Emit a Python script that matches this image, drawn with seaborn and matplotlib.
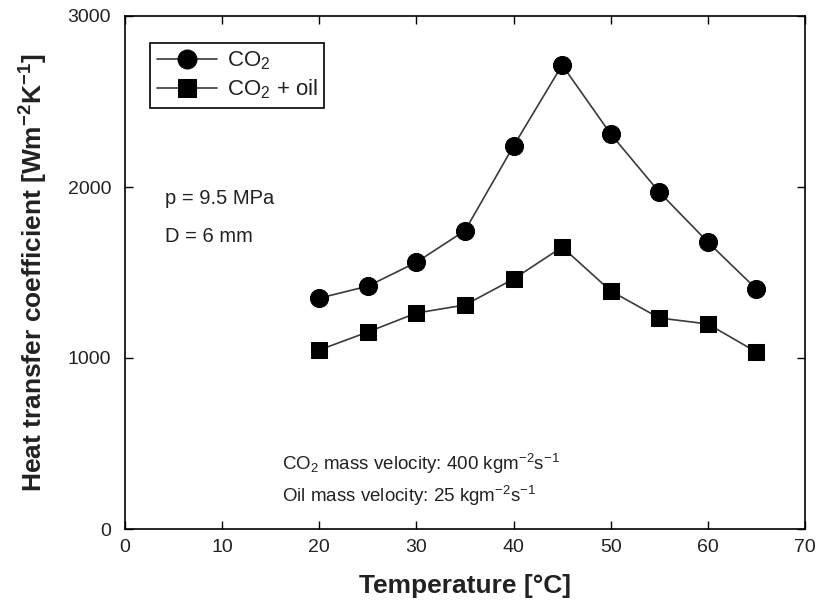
import matplotlib
matplotlib.use("Agg")
import matplotlib.pyplot as plt
import seaborn as sns
import pandas as pd

temperature = [20, 25, 30, 35, 40, 45, 50, 55, 60, 65]
htc_co2 = [1350, 1420, 1560, 1745, 2240, 2713, 2310, 1970, 1678, 1403]
htc_co2_oil = [1047, 1152, 1263, 1310, 1462, 1649, 1392, 1234, 1199, 1035]
series_labels = ["CO$_2$", "CO$_2$ + oil"]

sns.set_theme(style="ticks")
plt.rcParams["font.family"] = ["Liberation Sans", "DejaVu Sans"]
plt.rcParams["mathtext.fontset"] = "custom"
plt.rcParams["mathtext.rm"] = "Liberation Sans"
plt.rcParams["mathtext.it"] = "Liberation Sans:italic"
plt.rcParams["mathtext.bf"] = "Liberation Sans:bold"
plt.rcParams["mathtext.default"] = "regular"

df_co2 = pd.DataFrame({"T": temperature, "h": htc_co2})
df_oil = pd.DataFrame({"T": temperature, "h": htc_co2_oil})

fig = plt.figure(figsize=(8.21, 6.08), dpi=100)
ax = fig.add_axes([125/821, 1-529/608, (805-125)/821, (529-16)/608])

line_col = "#3a3a3a"
sns.lineplot(data=df_co2, x="T", y="h", ax=ax, color=line_col, lw=1.2,
             marker="o", markersize=13, markerfacecolor="black",
             markeredgecolor="black", label=series_labels[0])
sns.lineplot(data=df_oil, x="T", y="h", ax=ax, color=line_col, lw=1.2,
             marker="s", markersize=12, markerfacecolor="black",
             markeredgecolor="black", label=series_labels[1])

ax.set_xlim(0, 70)
ax.set_ylim(0, 3000)
ax.set_xticks(range(0, 71, 10))
ax.set_yticks([0, 1000, 2000, 3000])
ax.tick_params(direction="in", top=True, right=True, length=6, width=1,
               labelsize=14, colors="black", labelcolor="#222222")
ax.tick_params(axis="x", pad=7)
ax.tick_params(axis="y", pad=10)
for s in ax.spines.values():
    s.set_color("black")
    s.set_linewidth(1.2)

ax.set_xlabel("Temperature [°C]", fontsize=19, fontweight="bold", labelpad=13,
              color="#222222")
ax.set_ylabel(r"Heat transfer coefficient [Wm$^{\bf{-2}}$K$^{\bf{-1}}$]",
              fontsize=19, fontweight="bold", labelpad=13, color="#222222")

leg = ax.legend(loc="upper left", bbox_to_anchor=(25/680, 1-27/513),
                borderaxespad=0, fontsize=16, frameon=True, fancybox=False,
                borderpad=0.3, handlelength=2.7, labelspacing=0.25,
                handletextpad=0.45, framealpha=1, markerscale=1.05)
leg.get_frame().set_edgecolor("black")
leg.get_frame().set_linewidth(1.2)
for t in leg.get_texts():
    t.set_color("#222222")

ax.text(4.1, 1930, "p = 9.5 MPa", fontsize=14.5, va="center", ha="left",
        color="#222222")
ax.text(4.1, 1710, "D = 6 mm", fontsize=14.5, va="center", ha="left",
        color="#222222")
ax.text(16.2, 380, "CO$_2$ mass velocity: 400 kgm$^{-2}$s$^{-1}$", fontsize=13.5,
        va="center", ha="left", color="#222222")
ax.text(16.2, 195, "Oil mass velocity: 25 kgm$^{-2}$s$^{-1}$", fontsize=13.5,
        va="center", ha="left", color="#222222")

fig.savefig("out.png", dpi=100)
